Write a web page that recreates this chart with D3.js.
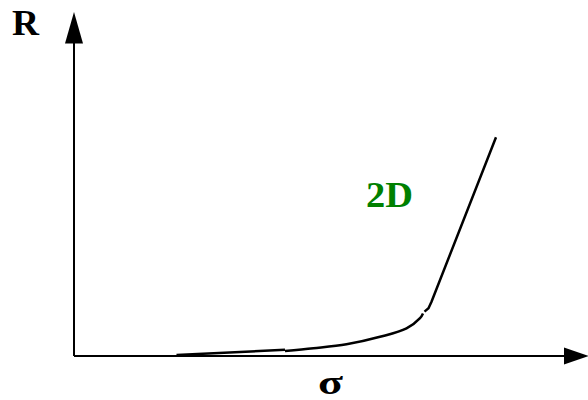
<!DOCTYPE html>
<html>
<head>
<meta charset="utf-8">
<script src="https://cdn.jsdelivr.net/npm/d3@7"></script>
<style>
  body { margin: 0; background: #fff; }
  text { font-family: "Liberation Serif", "Times New Roman", serif; font-weight: bold; }
</style>
</head>
<body>
<svg width="588" height="400"></svg>
<script>
// sigma / R pairs (arbitrary units, 0..100)
var tailSigma = [20.5, 42.2]
var tailR = [0.3, 2.1]
var kneeSigma = [42.2, 47.9, 54.5, 61.2, 66.5, 69.2, 69.8]
var kneeR = [1.7, 2.6, 3.9, 6.4, 9.2, 12.6, 14.2]
var riseSigma = [70.1, 70.9, 71.5, 84.4]
var riseR = [14.8, 15.9, 18.1, 72.9]
var labels = {x: "σ", y: "R", curve: "2D"}

var svg = d3.select("svg")

let x = d3.scaleLinear().domain([0, 100]).range([74, 574])
let y = d3.scaleLinear().domain([0, 100]).range([356, 56])

let zip = (xs, ys) => xs.map((v, i) => ({s: v, r: ys[i]}))

// axes with arrow heads
svg.append("line")
    .attr("x1", x(0)).attr("y1", y(0))
    .attr("x2", 575).attr("y2", y(0))
    .attr("stroke", "black").attr("stroke-width", 2)
svg.append("path")
    .attr("d", "M564," + (y(0) - 8.5) + "L588.5," + y(0) + "L564," + (y(0) + 8.5) + "Z")
    .attr("fill", "black")

svg.append("line")
    .attr("x1", x(0)).attr("y1", y(0))
    .attr("x2", x(0)).attr("y2", 30)
    .attr("stroke", "black").attr("stroke-width", 2)
svg.append("path")
    .attr("d", "M" + (x(0) - 9) + ",43.5L" + x(0) + ",12L" + (x(0) + 9) + ",43.5Z")
    .attr("fill", "black")

let line = d3.line()
    .x((d) => x(d.s))
    .y((d) => y(d.r))

let curve = d3.line()
    .x((d) => x(d.s))
    .y((d) => y(d.r))
    .curve(d3.curveCatmullRom)

svg.append("path").datum(zip(tailSigma, tailR))
    .attr("d", line).attr("fill", "none")
    .attr("stroke", "black").attr("stroke-width", 2.5)
svg.append("path").datum(zip(kneeSigma, kneeR))
    .attr("d", curve).attr("fill", "none")
    .attr("stroke", "black").attr("stroke-width", 2.5)
svg.append("path").datum(zip(riseSigma, riseR))
    .attr("d", line).attr("fill", "none")
    .attr("stroke", "black").attr("stroke-width", 2.5)

// text
svg.append("text").attr("x", 12).attr("y", 35)
    .attr("font-size", 35).attr("textLength", 27).attr("lengthAdjust", "spacingAndGlyphs")
    .attr("fill", "black").text(labels.y)
svg.append("text").attr("x", 318).attr("y", 394)
    .attr("font-size", 34).attr("textLength", 25).attr("lengthAdjust", "spacingAndGlyphs")
    .attr("fill", "black").text(labels.x)
svg.append("text").attr("x", 366).attr("y", 207)
    .attr("font-size", 36).attr("textLength", 47).attr("lengthAdjust", "spacingAndGlyphs")
    .attr("fill", "#008000").text(labels.curve)
</script>
</body>
</html>
